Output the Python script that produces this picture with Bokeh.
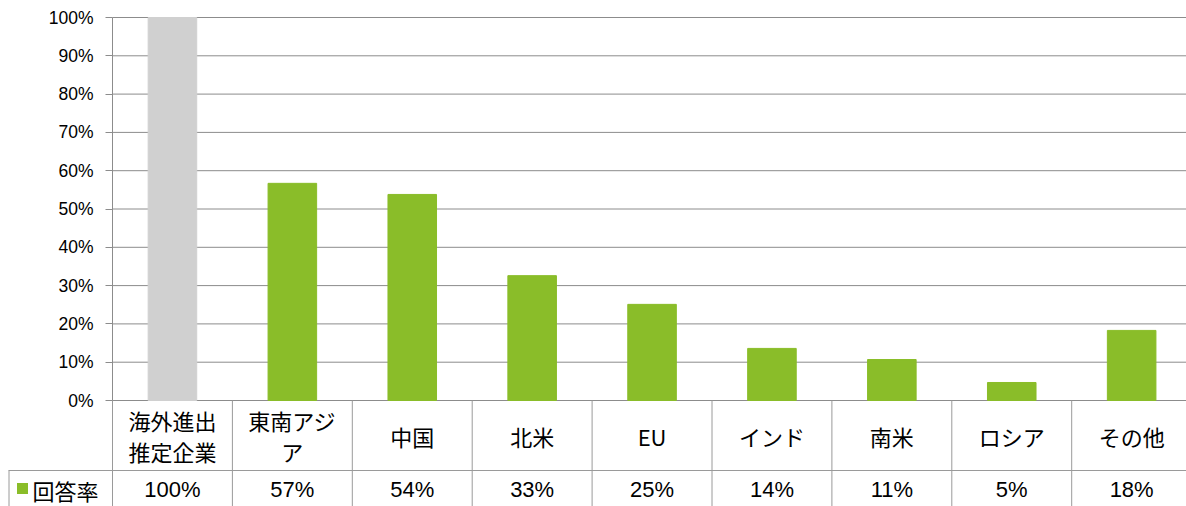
import numpy as np
from bokeh.plotting import figure
from bokeh.models import ColumnDataSource, Range1d, FixedTicker, NumeralTickFormatter, LinearAxis
from bokeh.core.properties import value
from bokeh.embed import file_html
from bokeh.resources import INLINE

# ---- data ----
categories = ["海外進出\n推定企業", "東南アジ\nア", "中国", "北米", "EU", "インド", "南米", "ロシア", "その他"]
answer_rate = [1.00, 0.567, 0.538, 0.326, 0.251, 0.136, 0.107, 0.047, 0.183]
table_labels = ["100%", "57%", "54%", "33%", "25%", "14%", "11%", "5%", "18%"]
series_name = "回答率"
y_ticks = [0, 0.1, 0.2, 0.3, 0.4, 0.5, 0.6, 0.7, 0.8, 0.9, 1.0]

GREEN = "#8abd29"
GRAY = "#d0d0d0"
GRID = "#8c8c8c"
TABLE = "#9a9a9a"
JP = "Noto Sans CJK JP"
NUM = "Liberation Sans"

W, H = 1186, 506
N = len(categories)
AXIS_X = 112.0          # px position of the value axis
COL = 119.9             # px per category
Y0, Y100 = 400.0, 17.0  # px of 0% and 100%
UNIT = Y0 - Y100        # px per 100%
ux = 1.0 / COL          # one px in x data units
uy = 1.0 / UNIT         # one px in y data units

x_start = -AXIS_X * ux
x_end = (W - AXIS_X) * ux
y_end = 1 + Y100 * uy
y_start = -(H - Y0) * uy
ROW1 = 70 * uy          # height of category row

p = figure(width=W, height=H, x_range=Range1d(x_start, x_end), y_range=Range1d(y_start, y_end),
           output_backend="svg", toolbar_location=None, x_axis_type=None, y_axis_type=None,
           min_border=0)
p.outline_line_color = None
p.background_fill_color = "white"
p.border_fill_color = "white"

# value axis placed at x = 0 inside the plot
ax = LinearAxis(fixed_location=0, bounds=(0, 1))
ax.ticker = FixedTicker(ticks=y_ticks)
ax.formatter = NumeralTickFormatter(format="0%")
ax.major_label_text_font = NUM
ax.major_label_text_font_size = "17.5px"
ax.major_label_text_color = "#000000"
ax.major_tick_out = 7
ax.major_tick_in = 0
ax.minor_tick_line_color = None
ax.axis_line_color = GRID
ax.major_tick_line_color = GRID
ax.major_label_standoff = 12
p.add_layout(ax, "left")

# horizontal grid lines, only across the plot area
p.segment(x0=[0] * len(y_ticks), y0=y_ticks, x1=[N] * len(y_ticks), y1=y_ticks,
          line_color=GRID, line_width=1)

# bars
bar_colors = [GRAY] + [GREEN] * (N - 1)
src = ColumnDataSource(dict(x=np.arange(N) + 0.5, top=answer_rate, color=bar_colors))
p.vbar(x="x", top="top", bottom=0, width=0.405, color="color", source=src)

# ---- data table ----
xs = list(range(N + 1))
p.segment(x0=xs, y0=[0] * len(xs), x1=xs, y1=[y_start] * len(xs), line_color=TABLE, line_width=1)
p.segment(x0=[x_start + 8 * ux], y0=[-ROW1], x1=[N], y1=[-ROW1], line_color=TABLE, line_width=1)
p.segment(x0=[x_start + 8.5 * ux], y0=[-ROW1], x1=[x_start + 8.5 * ux], y1=[y_start],
          line_color=TABLE, line_width=1)

# category labels
p.text(x=np.arange(N) + 0.5, y=[-35 * uy] * N, text=categories, text_align="center",
       text_baseline="middle", text_font=value(JP), text_font_size="22px",
       text_color="#000000", text_line_height=0.95)
# value labels
yv = -89 * uy
p.text(x=np.arange(N) + 0.5, y=[yv] * N, text=table_labels, text_align="center",
       text_baseline="middle", text_font=value(NUM), text_font_size="22px", text_color="#000000")
# legend key
p.scatter(x=[x_start + 22 * ux], y=[yv + 1 * uy], marker="square", size=11,
          fill_color=GREEN, line_color=None)
p.text(x=[x_start + 32 * ux], y=[yv], text=[series_name], text_align="left",
       text_baseline="middle", text_font=value(JP), text_font_size="22px", text_color="#000000")

open("out.html", "w").write(file_html(p, INLINE))
